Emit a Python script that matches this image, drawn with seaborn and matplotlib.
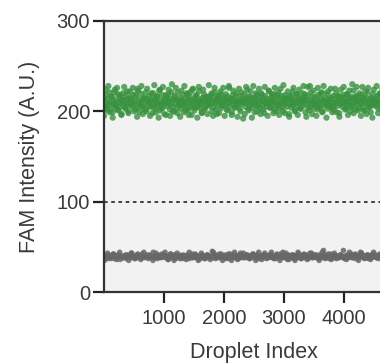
import numpy as np
import pandas as pd
import matplotlib
matplotlib.use("Agg")
import matplotlib.pyplot as plt
import seaborn as sns

# FAM intensity of positive droplets (green cluster)
positive_fam_core = [
212,205,218,209,201,214,207,221,210,203,216,199,211,208,224,206,213,202,219,210,
204,215,209,197,212,220,206,211,203,217,208,214,200,210,222,207,213,205,218,209,
211,202,216,208,225,204,213,199,210,219,206,212,203,215,209,221,200,214,207,211,
217,205,210,213,198,220,208,214,203,211,216,206,209,223,201,212,207,218,204,210,
213,209,196,215,206,219,211,202,214,208,230,205,212,200,217,209,213,204,221,207,
210,215,203,212,208,218,199,211,214,206,220,209,202,213,216,205,210,224,207,212,
201,214,209,217,205,211,222,204,213,208,198,215,210,219,203,212,207,216,209,211,
206,213,218,200,210,215,204,221,209,212,197,214,208,217,211,203,219,206,213,210,
215,207,212,202,216,209,226,205,211,214,199,218,208,213,204,210,220,206,212,209,
203,211,217,208,214,192,210,219,205,213,209,216,201,212,207,222,210,204,215,211,
209,214,206,218,200,212,208,215,203,220,211,207,213,198,217,210,205,214,209,223,
212,204,210,216,207,213,219,202,211,208,215,206,221,209,203,214,210,217,200,212,
208,218,211,205,214,209,197,213,216,204,210,222,207,212,201,215,209,219,206,211,
214,203,212,209,220,206,211,215,199,213,208,217,204,210,228,205,212,216,209,203,
210,216,207,213,202,218,209,211,205,214,221,200,212,208,215,206,210,219,203,213,
207,212,215,204,210,217,201,213,209,220,206,211,214,198,216,208,212,205,218,210,
215,209,203,212,219,207,210,214,200,216,211,205,223,209,213,202,217,208,211,214,
204,211,218,209,206,213,216,201,210,215,208,221,205,212,209,199,214,207,219,211,
212,206,214,210,217,203,209,220,207,213,211,196,216,208,212,204,218,210,206,215,
209,213,201,216,208,211,222,205,214,210,207,218,203,212,209,215,200,213,217,208,
]
positive_fam_edge = [
195,224,203,228,199,216,193,221,206,226,201,218,196,213,227,204,222,198,215,209,
226,200,219,194,223,207,228,197,214,202,225,211,195,220,205,229,199,217,193,224,
203,227,197,218,209,224,195,221,200,215,226,198,212,194,223,206,228,201,219,196,
221,196,225,204,218,193,227,210,199,224,203,216,197,229,208,220,195,226,202,217,
198,222,207,226,195,219,201,228,213,196,223,205,217,194,225,200,221,211,197,227,
224,203,216,193,228,199,220,206,225,197,218,202,227,209,195,222,204,219,198,226,
200,218,196,225,205,229,198,214,222,194,217,207,226,200,219,196,224,203,215,228,
219,194,227,201,221,197,223,208,195,226,204,220,199,228,211,193,222,206,225,199,
206,225,199,217,194,224,210,227,202,219,196,223,205,230,198,216,227,201,220,195,
227,201,222,197,226,204,215,193,224,208,228,198,219,203,225,195,217,210,196,223,
235,188,233,190,237,186,232,191,234,189,
]

# FAM intensity of negative droplets (gray cluster)
negative_fam_core = [
39,38,40,37,41,39,38,40,39,42,37,39,40,38,41,39,36,40,39,38,
40,39,37,41,38,40,39,43,38,39,40,37,39,41,38,40,39,38,42,39,
38,40,39,41,37,39,40,38,39,44,38,40,39,37,41,39,40,38,39,40,
41,38,39,40,36,39,42,38,40,39,41,37,40,39,38,41,39,40,37,39,
39,40,38,41,39,37,40,39,42,38,39,41,38,40,39,36,40,39,41,38,
40,37,39,41,38,40,39,38,45,39,40,37,41,39,38,40,39,42,38,39,
38,41,39,40,37,39,42,38,40,39,41,38,39,40,37,41,39,38,40,43,
39,38,40,41,39,37,40,38,39,42,40,39,38,41,37,39,40,38,39,41,
41,39,37,40,38,41,39,44,38,40,39,37,40,41,38,39,42,38,40,39,
38,40,39,36,41,39,40,38,39,41,37,40,39,38,42,39,40,37,41,39,
40,38,41,39,37,40,39,43,38,39,41,40,38,39,37,41,39,40,38,46,
39,41,38,40,39,37,42,39,40,38,41,39,37,40,39,38,41,40,39,38,
37,40,39,41,38,39,40,42,38,39,41,37,40,39,38,40,44,39,41,38,
40,39,38,41,37,39,40,38,42,39,40,41,38,39,37,40,39,41,38,40,
39,38,41,40,37,39,42,38,40,39,41,38,39,45,40,37,39,41,38,39,
]
negative_fam_edge = [
35,43,37,42,36,44,38,41,35,43,37,42,36,44,39,41,35,43,38,42,
44,36,42,35,43,37,41,36,44,38,42,35,43,37,41,36,44,38,42,35,
37,42,35,44,36,43,38,41,37,42,35,44,36,43,38,41,37,42,35,44,
43,36,41,35,44,37,42,36,43,38,41,35,44,37,42,36,43,38,41,46,
36,44,38,42,35,43,37,41,36,44,38,42,35,43,37,41,36,44,38,47,
]

threshold = 100
x_ticks = [1000, 2000, 3000, 4000]
y_ticks = [0, 100, 200, 300]

green = "#38923e"
gray = "#676767"


def droplets(values, start, stop):
    return pd.DataFrame({"Droplet Index": np.linspace(start, stop, len(values)),
                         "FAM": values})


pos_df = pd.concat([droplets(positive_fam_core, 6, 4996),
                    droplets(positive_fam_edge, 2, 4999)])
neg_df = pd.concat([droplets(negative_fam_core, 3, 4993),
                    droplets(negative_fam_edge, 9, 4998)])

sns.set_style("ticks")
plt.rcParams["font.family"] = ["Liberation Sans", "DejaVu Sans"]

fig = plt.figure(figsize=(3.8, 3.63), dpi=100)
ax = fig.add_axes([104/380, (363-292)/363, 300/380, (292-21)/363])
ax.set_facecolor("#f2f2f2")

sns.scatterplot(data=neg_df, x="Droplet Index", y="FAM", color=gray, s=16,
                alpha=0.85, edgecolor="none", ax=ax, legend=False)
sns.scatterplot(data=pos_df, x="Droplet Index", y="FAM", color=green, s=20,
                alpha=0.8, edgecolor="none", ax=ax, legend=False)

ax.axhline(threshold, color="#333333", lw=1.3, ls=(0, (2.0, 2.0)), zorder=1)

ax.set_xlim(0, 5000)
ax.set_ylim(0, 300)
ax.set_xticks(x_ticks)
ax.set_yticks(y_ticks)
ax.tick_params(axis="both", labelsize=14.5, length=8, width=1.6, color="#222222",
               labelcolor="#3a3a3a")
ax.tick_params(axis="x", pad=4)
ax.tick_params(axis="y", pad=2)
for side in ["left", "bottom", "top", "right"]:
    ax.spines[side].set_linewidth(1.6)
    ax.spines[side].set_color("#333333")

ax.set_xlabel("Droplet Index", fontsize=15.5, color="#3a3a3a", labelpad=10)
ax.set_ylabel("FAM Intensity (A.U.)", fontsize=15.5, color="#3a3a3a", labelpad=12)

fig.savefig("out.png", dpi=100)
